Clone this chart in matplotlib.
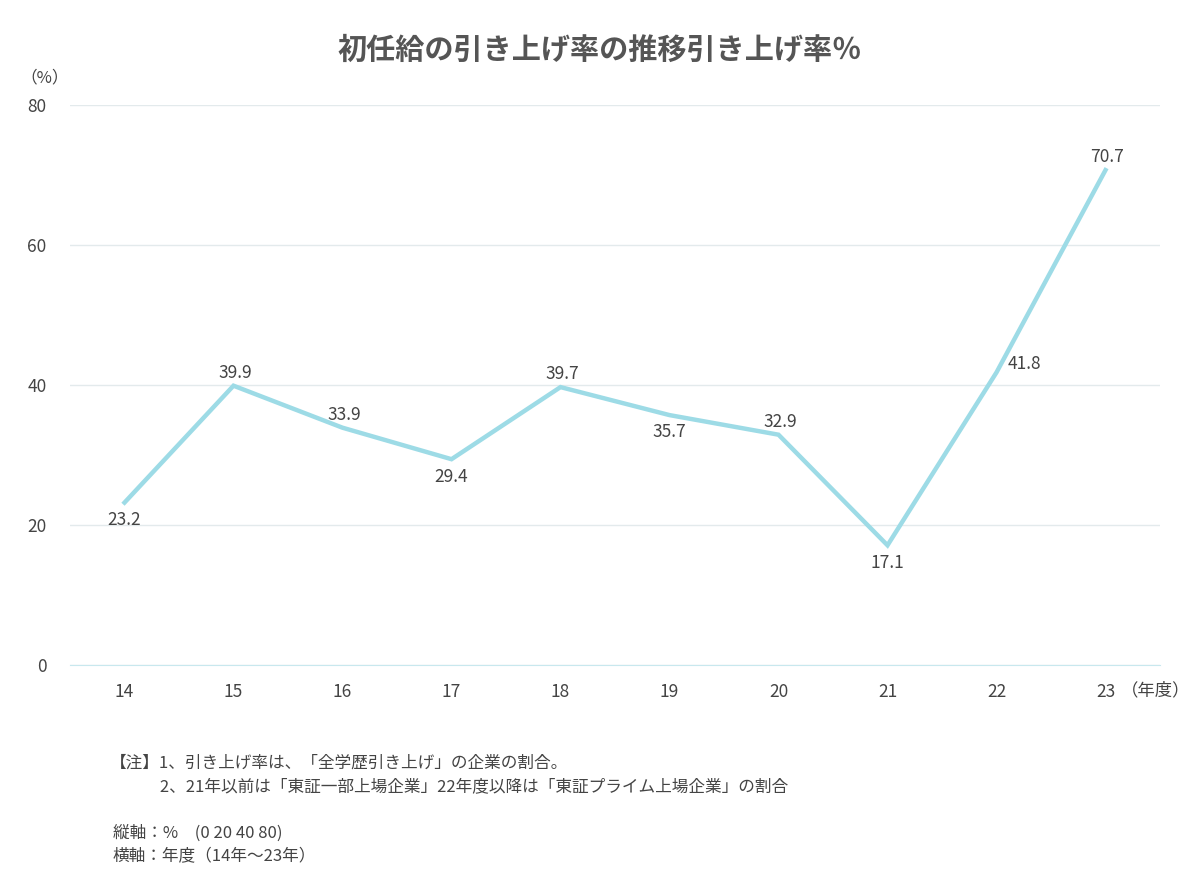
import matplotlib.pyplot as plt

plt.rcParams['font.family'] = ['Noto Sans CJK JP', 'DejaVu Sans']

# データ
years = ['14', '15', '16', '17', '18', '19', '20', '21', '22', '23']
rates = [23.2, 39.9, 33.9, 29.4, 39.7, 35.7, 32.9, 17.1, 41.8, 70.7]
# ラベル位置 (下/上/右)
label_pos = ['below', 'above', 'above', 'below', 'above', 'below', 'above', 'below', 'right', 'above']
y_ticks = [0, 20, 40, 60, 80]

TEXT = '#444444'
LINE = '#9ddbe6'

fig = plt.figure(figsize=(12, 8.88), dpi=100)
ax = fig.add_axes([70 / 1200, 1 - 665 / 888, 1090 / 1200, 560 / 888])

x = list(range(len(years)))
ax.plot(x, rates, color=LINE, lw=3.2, solid_joinstyle='miter')

for xi, v, pos in zip(x, rates, label_pos):
    if pos == 'above':
        ax.annotate(f'{v}', (xi, v), xytext=(1, 3), textcoords='offset points',
                    ha='center', va='bottom', fontsize=12.5, color=TEXT)
    elif pos == 'below':
        ax.annotate(f'{v}', (xi, v), xytext=(0, -6), textcoords='offset points',
                    ha='center', va='top', fontsize=12.5, color=TEXT)
    else:
        ax.annotate(f'{v}', (xi, v), xytext=(8, 6), textcoords='offset points',
                    ha='left', va='center', fontsize=12.5, color=TEXT)

ax.set_xlim(-0.5, len(years) - 0.5)
ax.set_ylim(0, 80)
ax.set_yticks(y_ticks)
ax.set_xticks(x)
ax.set_xticklabels(years)
ax.tick_params(length=0, labelsize=12.5, labelcolor=TEXT)
ax.tick_params(axis='x', pad=13)
ax.tick_params(axis='y', pad=17)
ax.grid(axis='y', color='#e3eaec', lw=1)
ax.set_axisbelow(True)
for s in ['top', 'right', 'left']:
    ax.spines[s].set_visible(False)
ax.spines['bottom'].set_color('#c8e8ee')

fig.text(0.5, 1 - 50 / 888, '初任給の引き上げ率の推移引き上げ率％', ha='center', va='center',
         fontsize=21, fontweight='bold', color='#555555')
fig.text(45 / 1200, 1 - 78 / 888, '（%）', ha='center', va='center', fontsize=12, color=TEXT)
fig.text(1121 / 1200, 1 - 690 / 888, '（年度）', ha='left', va='center', fontsize=12.5, color=TEXT)

notes = [
    (110, 763, '【注】1、引き上げ率は、「全学歴引き上げ」の企業の割合。'),
    (110, 787, '　　　2、21年以前は「東証一部上場企業」22年度以降は「東証プライム上場企業」の割合'),
    (113, 833, '縦軸：%　(0 20 40 80)'),
    (113, 857, '横軸：年度（14年～23年）'),
]
for nx, ny, t in notes:
    fig.text(nx / 1200, 1 - ny / 888, t, ha='left', va='center', fontsize=12, color=TEXT)

fig.savefig('out.png', dpi=100, facecolor='white')
